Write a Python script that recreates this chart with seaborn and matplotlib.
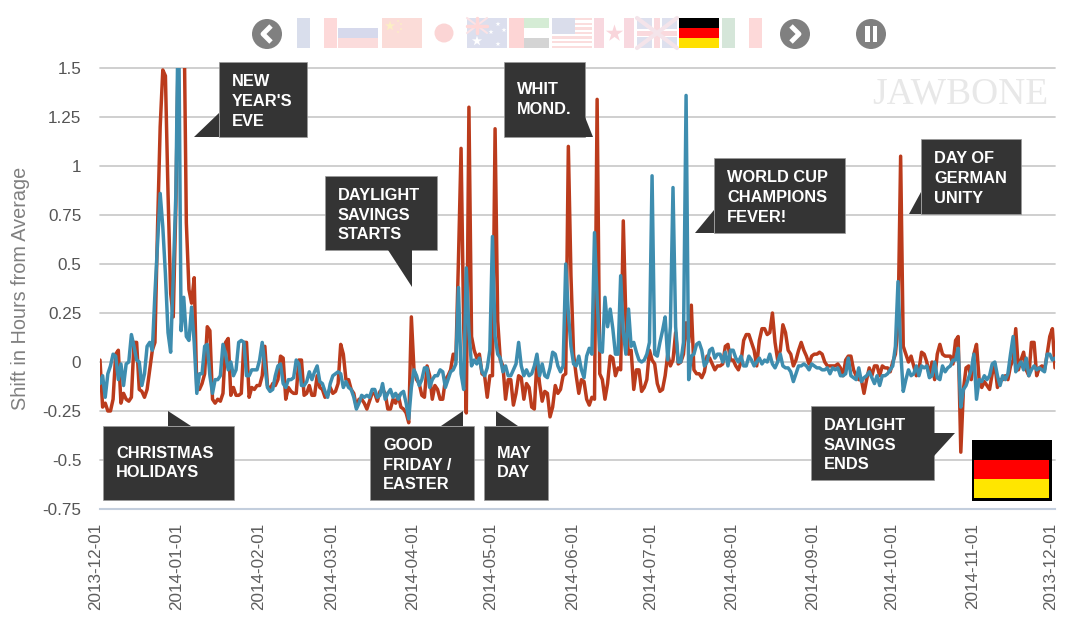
import matplotlib
matplotlib.use('Agg')
import matplotlib.pyplot as plt
from matplotlib.patches import Polygon, Rectangle, Circle
from matplotlib.transforms import ScaledTranslation
import numpy as np
import pandas as pd
import seaborn as sns

# values, one list per month
red_dec = [.01,-.23,-.21,-.25,-.25,-.19,.04,.06,-.21,-.16,-.19,-.20,-.18,.10,.10,-.14,-.15,-.18,-.14,-.04,.06,.10,.69,1.20,1.49,1.46,.86,.35,.23,.80,1.7]
red_jan = [1.9,1.9,.71,.37,.30,.43,-.14,-.14,-.11,-.06,.18,.16,-.19,-.21,-.19,-.20,-.16,.10,.12,-.17,-.13,-.17,-.17,-.16,.10,.10,-.18,-.13,-.14,-.12,-.12]
red_feb = [-.07,.08,-.12,-.14,-.11,-.12,-.09,.03,.02,-.19,-.13,-.15,-.16,-.16,.01,.01,-.17,-.16,-.12,-.17,-.17,-.07,-.13,-.14,-.18,-.17,-.13,-.16]
red_mar = [-.15,-.11,.09,.04,-.09,-.09,-.14,-.16,-.23,-.19,-.19,-.21,-.24,-.20,-.16,-.16,-.20,-.15,-.14,-.16,-.24,-.24,-.19,-.21,-.17,-.23,-.24,-.26,-.31,.23,-.04]
red_apr = [-.09,-.11,-.17,-.18,-.02,-.07,-.19,-.12,-.14,-.19,-.19,-.09,-.07,-.04,.04,.01,.52,1.09,.18,-.26,1.30,.13,.06,.02,.04,-.06,-.07,-.18,-.07,-.07]
red_may = [1.19,.21,.01,-.02,-.19,-.09,-.09,-.22,-.16,-.07,-.08,-.19,-.11,-.13,-.23,-.24,.01,-.11,-.20,-.15,-.16,-.28,-.23,-.12,-.16,-.14,-.07,-.06,1.10,.44,.04]
red_jun = [-.07,-.16,-.09,-.10,-.19,-.22,-.18,-.19,1.34,-.06,-.09,-.19,-.11,.03,.02,-.07,-.03,-.04,.72,.21,.04,.06,-.14,-.04,-.04,-.15,-.13,-.09,.06,.01]
red_jul = [-.01,-.11,-.15,-.14,-.07,.04,-.02,.01,.15,-.01,0,.04,.20,.10,.29,-.04,-.06,-.06,-.08,-.05,.03,.02,-.01,-.04,-.02,-.02,-.01,.08,.09,.01,.01]
red_aug = [-.02,-.04,0,.11,.14,.14,.10,.06,-.02,.11,.17,.17,.14,.15,.25,.10,.01,.06,.19,.15,.06,.04,-.02,.01,.06,.10,.06,.03,-.01,.03,.04]
red_sep = [.04,.05,.04,0,-.02,-.02,-.02,-.02,-.01,-.03,-.07,.01,.03,.03,-.04,-.07,-.09,-.09,-.16,-.09,-.03,-.07,-.02,-.02,-.07,-.02,-.03,-.03,-.05,0]
red_oct = [.04,.18,1.05,.08,.04,0,.03,-.02,-.07,-.04,.05,.04,0,-.07,0,-.09,.04,.09,.04,.03,.03,.03,-.01,.11,.13,-.46,-.14,-.03,-.02,-.09,.04]
red_nov = [.09,-.09,-.13,-.10,-.12,-.14,-.06,-.01,-.13,-.09,-.09,-.07,-.09,-.02,.01,.17,-.04,.01,.05,-.04,-.07,.10,.10,-.07,-.03,-.02,-.04,.04,.13,.17,-.03]

blue_dec = [-.11,-.07,-.18,-.06,-.02,.04,.03,-.09,-.01,-.12,-.01,0,.14,.08,.01,0,-.12,-.06,.08,.10,.06,.35,.60,.86,.69,.45,.15,.05,.44,.86,1.9]
blue_jan = [.16,.33,.13,.11,.28,.10,-.16,-.06,-.06,.08,.09,-.07,-.16,-.09,-.09,-.07,.09,.04,-.04,0,-.07,-.04,.10,.11,.10,-.07,-.07,-.04,-.04,-.04,.01]
blue_feb = [.10,-.02,-.13,-.15,-.14,-.07,-.02,-.01,-.11,-.13,-.09,-.09,-.08,.01,-.01,-.12,-.12,-.10,-.05,-.09,-.05,-.02,-.10,-.11,-.15,-.18,-.11,-.07]
blue_mar = [-.06,-.05,-.06,-.13,-.10,-.13,-.14,-.18,-.24,-.21,-.17,-.18,-.17,-.18,-.14,-.14,-.18,-.17,-.11,-.19,-.16,-.14,-.18,-.16,-.19,-.16,-.15,-.21,-.29,-.13,-.04]
blue_apr = [-.07,-.12,-.09,-.03,-.03,-.13,-.09,-.07,-.07,-.04,-.05,-.13,-.09,-.05,-.04,-.01,.38,-.06,-.14,.48,.16,-.02,.01,-.01,.02,-.05,-.07,-.03,.06,.64]
blue_may = [.13,.04,.02,-.05,-.02,-.07,-.07,-.04,-.01,.10,-.02,-.07,-.04,-.07,-.06,-.02,.04,-.07,-.01,-.07,-.08,-.03,.05,.04,-.02,-.05,-.02,.50,.25,.08,-.01]
blue_jun = [-.02,.03,-.04,-.08,.03,.07,.04,.66,.32,.06,.05,.33,.18,.27,.17,.04,.04,.44,.15,.04,.27,.08,.10,.05,.01,0,.01,.04,.10,.95]
blue_jul = [.04,.03,.10,.16,.23,.01,.18,.89,.18,0,0,.10,1.36,-.09,.03,.04,.09,.10,.06,-.02,0,.06,.07,.02,.04,.04,0,.05,-.02,.06,.06]
blue_aug = [.02,0,.03,-.02,-.02,.03,.01,-.02,0,.02,-.01,.01,0,.04,-.01,-.03,0,.04,-.02,-.03,-.03,-.05,-.10,-.06,-.02,-.02,-.01,-.02,-.04,-.01,-.02]
blue_sep = [-.03,-.03,-.04,-.04,-.03,-.06,-.03,-.04,-.03,-.07,-.07,-.06,.02,-.07,-.08,-.09,-.03,-.10,-.08,-.07,-.05,-.08,-.11,-.07,-.12,-.07,-.07,-.06,-.04,-.02]
blue_oct = [.08,.41,.06,-.15,-.09,-.04,-.07,-.06,-.02,-.07,-.02,-.03,-.02,-.08,-.07,0,-.08,-.09,-.02,-.05,-.03,-.02,.01,.01,.07,-.23,-.14,-.12,-.08,-.04,.04]
blue_nov = [-.19,-.09,-.10,-.07,-.09,-.07,-.01,0,-.07,-.12,-.07,-.09,-.06,.04,.13,-.05,-.02,0,-.04,.02,-.07,-.04,-.02,-.04,-.03,-.04,-.05,.04,.04,.01,.02]

y_ticks = [1.5, 1.25, 1, 0.75, 0.5, 0.25, 0, -0.25, -0.5, -0.75]
x_labels = ['2013-12-01', '2014-01-01', '2014-02-01', '2014-03-01', '2014-04-01', '2014-05-01', '2014-06-01',
            '2014-07-01', '2014-08-01', '2014-09-01', '2014-10-01', '2014-11-01', '2013-12-01']

# text, box left/top/right/bottom, tail points (all in figure pixels)
notes = [
    ("NEW\nYEAR'S\nEVE", (219, 62, 307, 137), [(219, 113), (194, 137), (219, 137)]),
    ("CHRISTMAS\nHOLIDAYS", (103, 426, 234, 500), [(168, 426), (168, 411), (191, 426)]),
    ("DAYLIGHT\nSAVINGS\nSTARTS", (325, 176, 437, 250), [(388, 250), (412, 287), (412, 250)]),
    ("GOOD\nFRIDAY /\nEASTER", (370, 426, 474, 500), [(441, 426), (463, 411), (463, 426)]),
    ("MAY\nDAY", (484, 426, 548, 500), [(496, 426), (496, 411), (518, 426)]),
    ("WHIT\nMOND.", (504, 62, 585, 137), [(585, 117), (593, 137), (585, 137)]),
    ("WORLD CUP\nCHAMPIONS\nFEVER!", (714, 158, 845, 233), [(714, 210), (695, 233), (714, 233)]),
    ("DAY OF\nGERMAN\nUNITY", (921, 139, 1021, 214), [(921, 192), (909, 214), (921, 214)]),
    ("DAYLIGHT\nSAVINGS\nENDS", (811, 406, 934, 480), [(934, 433), (955, 433), (934, 456)]),
]

red = red_dec + red_jan + red_feb + red_mar + red_apr + red_may + red_jun + red_jul + red_aug + red_sep + red_oct + red_nov
blue = blue_dec + blue_jan + blue_feb + blue_mar + blue_apr + blue_may + blue_jun + blue_jul + blue_aug + blue_sep + blue_oct + blue_nov
dates = pd.date_range('2013-12-01', periods=len(red), freq='D')
df = pd.DataFrame({'date': list(dates) * 2, 'shift': red + blue,
                   'series': ['sleep'] * len(red) + ['wake'] * len(blue)})

sns.set_theme(style='white')
plt.rcParams['font.family'] = ['Liberation Sans', 'DejaVu Sans']

fig = plt.figure(figsize=(10.74, 6.38), dpi=100)
ax = fig.add_axes([100 / 1074, 1 - 509 / 638, 955 / 1074, 441 / 638])

sns.lineplot(data=df, x='date', y='shift', hue='series', hue_order=['sleep', 'wake'],
             palette=['#BB3B1C', '#3E8DAF'], linewidth=2.5, legend=False, errorbar=None, ax=ax)
for line in ax.get_lines():
    line.set_solid_joinstyle('round')

ax.set_xlim(dates[0], dates[-1])
ax.set_ylim(-0.75, 1.5)
ax.set_yticks(y_ticks)
ax.set_yticklabels([f'{t:g}' for t in y_ticks], fontsize=12.3, color='#555555')
ax.set_xticks(pd.date_range('2013-12-01', periods=13, freq='MS'))
ax.set_xticklabels(x_labels, rotation=90, fontsize=12.3, color='#5E5E5E')
ax.tick_params(axis='x', length=0, pad=10)
ax.tick_params(axis='y', length=0, pad=13.5)
shift_left = ScaledTranslation(-4 / 100, 0, fig.dpi_scale_trans)
for lab in ax.get_xticklabels():
    lab.set_transform(lab.get_transform() + shift_left)

ax.set_xlabel('')
ax.set_ylabel('')
ax.grid(axis='y', color='#cccccc', linewidth=1.3)
ax.set_axisbelow(True)
for g in ax.get_ygridlines():
    g.set_clip_on(False)
for side in ['top', 'left', 'right']:
    ax.spines[side].set_visible(False)
ax.spines['bottom'].set_color('#C3CEDD')
ax.spines['bottom'].set_linewidth(1.5)

# overlay in figure pixels for the callouts, flags and buttons
over = fig.add_axes([0, 0, 1, 1], zorder=5)
over.set_xlim(0, 1074)
over.set_ylim(638, 0)
over.axis('off')
over.patch.set_alpha(0)

over.text(21, 288, 'Shift in Hours from Average', rotation=90, ha='center', va='center',
          fontsize=14.3, color='#808080')
over.text(1048, 94, 'JAWBONE', ha='right', va='center', family='Liberation Serif', fontsize=27, color='#E8E8E8')

for text, (x0, y0, x1, y1), tail in notes:
    over.add_patch(Rectangle((x0, y0), x1 - x0, y1 - y0, facecolor='#343434', edgecolor='#999999', linewidth=0.5))
    over.add_patch(Polygon(tail, closed=True, facecolor='#343434', edgecolor='none'))
    # three line notes sit a little low in their boxes
    nudge = 2 if text.count('\n') == 2 else 0
    over.text(x0 + 13, (y0 + y1) / 2 + nudge, text, ha='left', va='center', color='white', fontsize=11.8,
              fontweight='bold', linespacing=1.4)


def rect(x0, y0, x1, y1, color):
    over.add_patch(Rectangle((x0, y0), x1 - x0, y1 - y0, facecolor=color, edgecolor='none'))


def stripes(x0, colors):
    h = 30 / len(colors)
    for i, c in enumerate(colors):
        rect(x0, 18 + i * h, x0 + 40, 18 + (i + 1) * h, c)


def columns(x0, colors):
    w = 40 / len(colors)
    for i, c in enumerate(colors):
        rect(x0 + i * w, 18, x0 + (i + 1) * w, 48, c)


# large German flag
rect(972, 440, 1052, 501, '#000000')
rect(974, 460, 1049, 479, '#FF0000')
rect(974, 479, 1049, 498, '#FFE600')

# flag strip
columns(297, ['#D9DEEC', '#FFFFFF', '#FDD9D9'])
stripes(338, ['#FFFFFF', '#D6D9EC', '#FBDCDC'])
rect(382, 18, 422, 48, '#FBDCD8')
over.scatter([390, 398, 401, 401, 398], [26, 21, 24, 29, 32], s=[60, 5, 5, 5, 5], marker='*', color='#FBEFC4', linewidths=0)
over.add_patch(Circle((444, 33), 9.5, facecolor='#FBD5D5', edgecolor='none'))
rect(467, 18, 507, 48, '#DCDFEE')
over.plot([467, 487], [18, 33], color='#FBE3E6', lw=1.5)
over.plot([487, 467], [18, 33], color='#FBE3E6', lw=1.5)
over.plot([477, 477], [18, 33], color='#FFD8D8', lw=2.5)
over.plot([467, 487], [25.5, 25.5], color='#FFD8D8', lw=2.5)
over.scatter([477, 498, 491, 504, 498], [41, 24, 32, 30, 44], s=[60, 14, 14, 14, 14], marker='*', color='white', linewidths=0)
rect(509, 18, 524, 48, '#FDD5D5')
rect(524, 18, 549, 28, '#D5ECD5')
rect(524, 38, 549, 48, '#D4D4D4')
for i in range(13):
    rect(552, 18 + i * 30 / 13, 592, 18 + (i + 1) * 30 / 13, '#FBDDDD' if i % 2 == 0 else '#FFFFFF')
rect(552, 18, 575, 34, '#DADDEB')
columns(594, ['#F8D8DF', '#FFFFFF', '#FFFFFF', '#F8D8DF'])
over.scatter([614], [33], s=170, marker='*', color='#F9D5DB', linewidths=0)
rect(637, 18, 677, 48, '#DDE0EE')
over.plot([637, 677], [18, 48], color='#F4E4EA', lw=3)
over.plot([637, 677], [48, 18], color='#F4E4EA', lw=3)
rect(652, 18, 662, 48, '#FFFFFF')
rect(637, 29, 677, 37, '#FFFFFF')
rect(654, 18, 660, 48, '#FAD9DD')
rect(637, 30.5, 677, 35.5, '#FAD9DD')
stripes(679, ['#000000', '#FF0000', '#FFE000'])
columns(722, ['#D5E6D9', '#FFFFFF', '#FDD9D9'])

# buttons
for cx in [267, 795, 871]:
    over.add_patch(Circle((cx, 34), 15, facecolor='#808080', edgecolor='none'))
over.plot([271, 263, 271], [26, 34, 42], color='white', lw=3.5, solid_capstyle='butt')
over.plot([791, 799, 791], [26, 34, 42], color='white', lw=3.5, solid_capstyle='butt')
rect(865, 26, 869.5, 42, 'white')
rect(872.5, 26, 877, 42, 'white')

fig.savefig('out.png', dpi=100)
